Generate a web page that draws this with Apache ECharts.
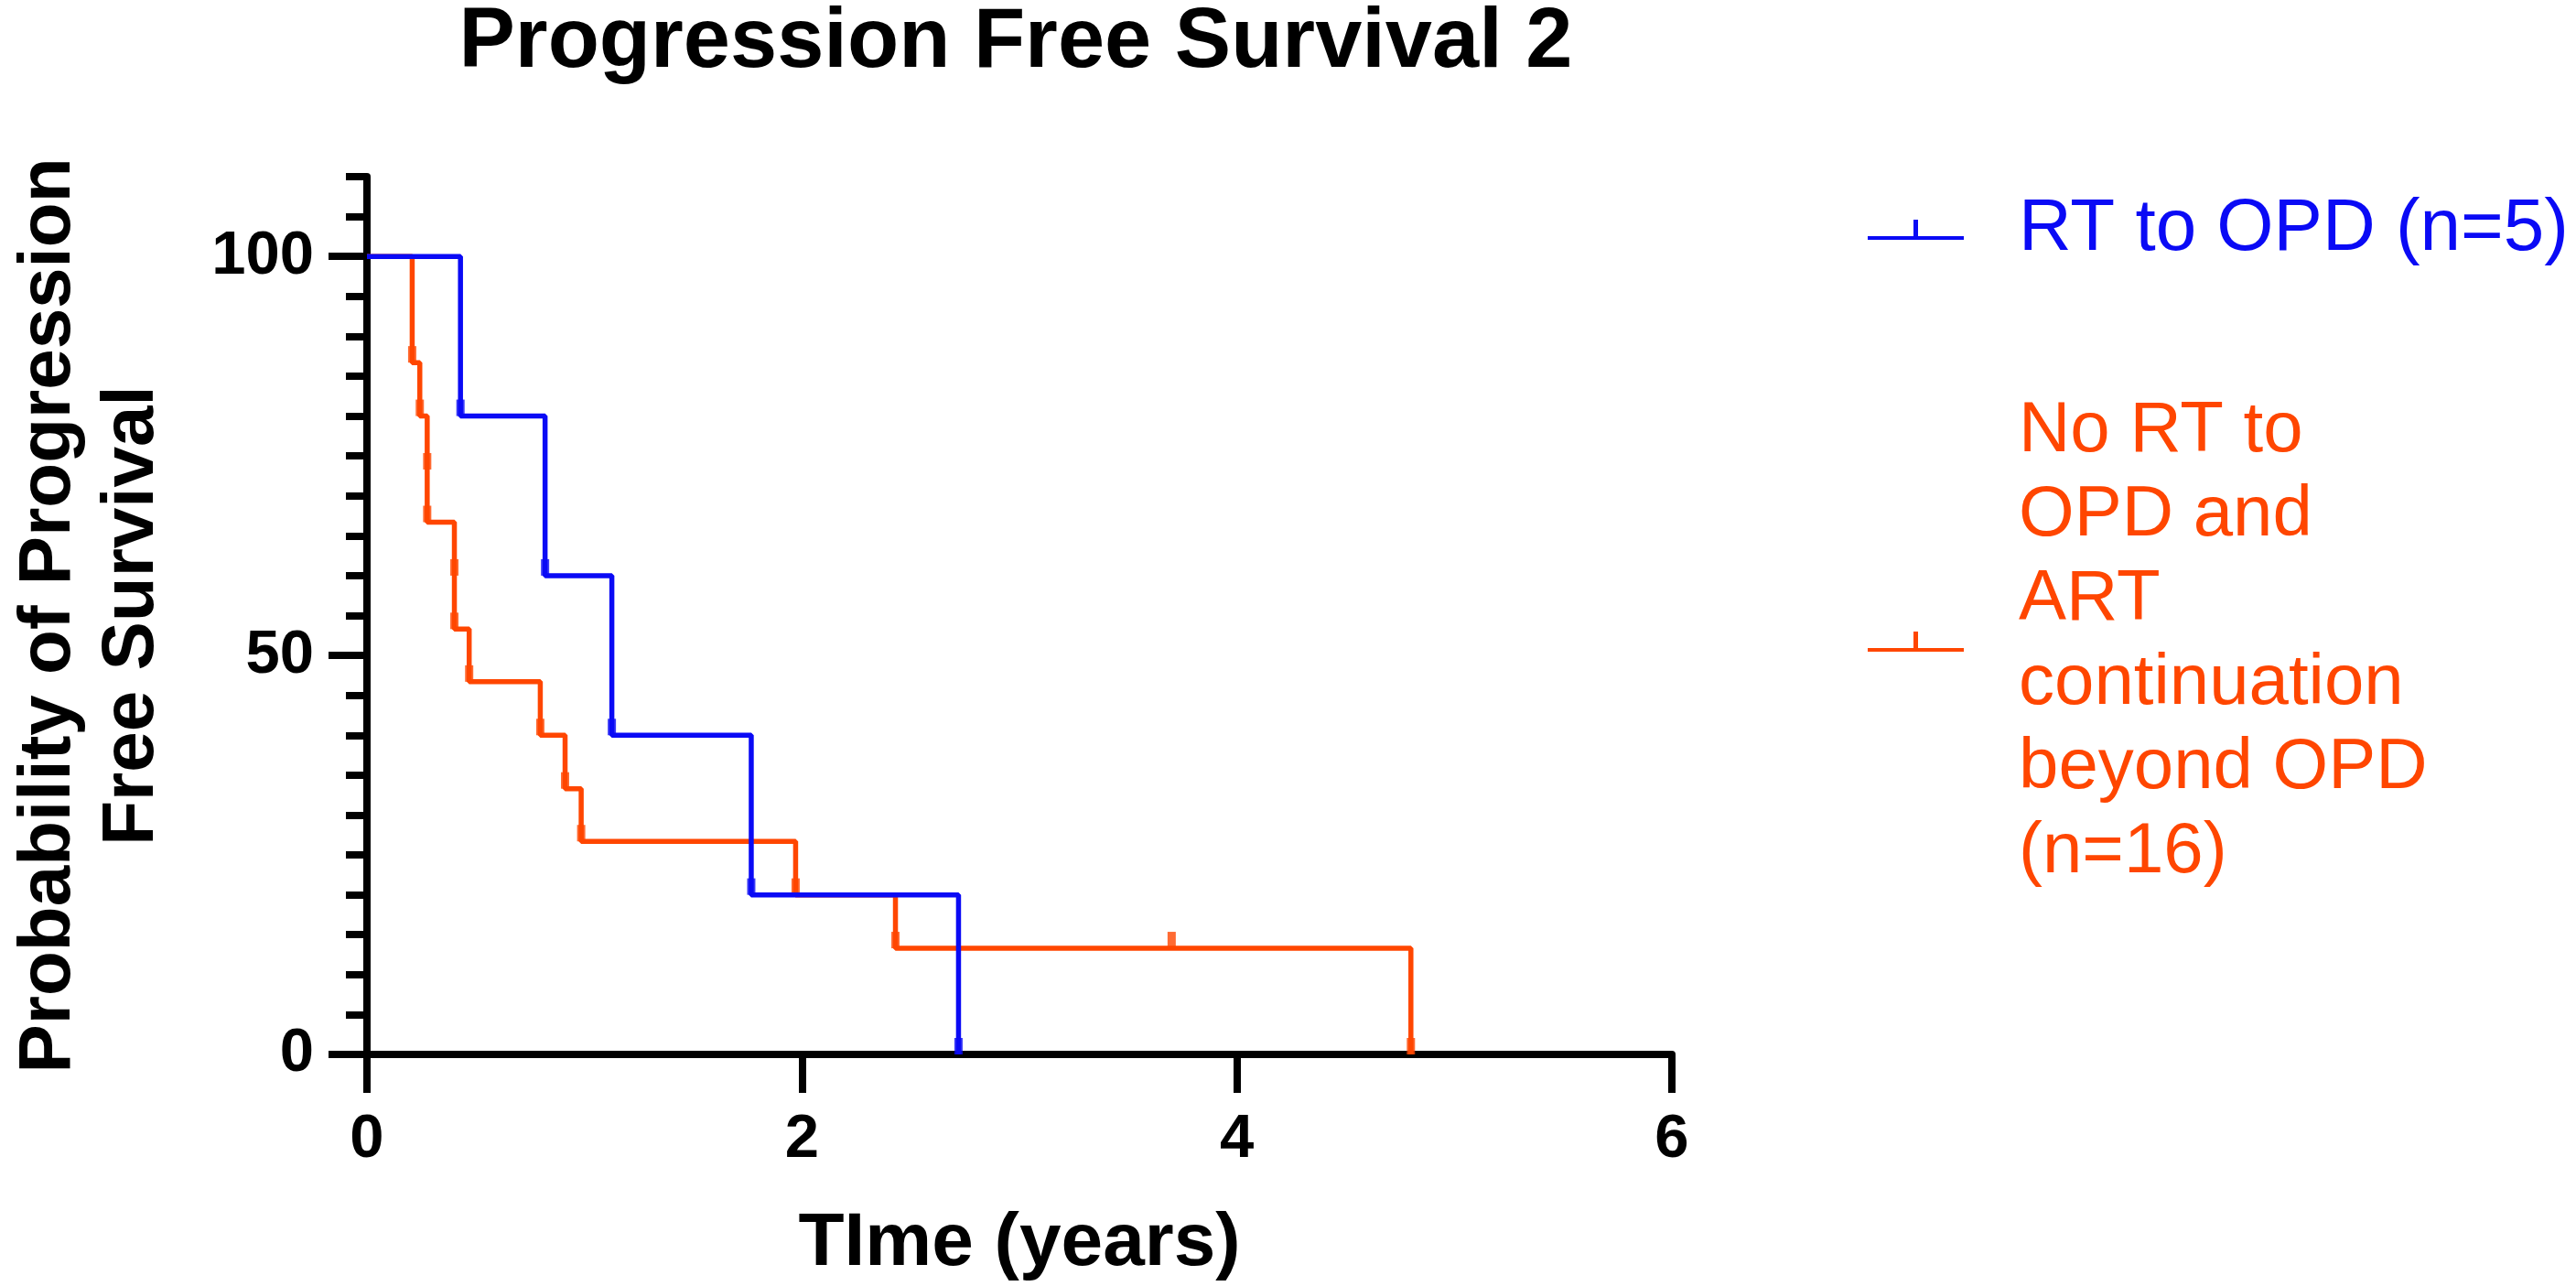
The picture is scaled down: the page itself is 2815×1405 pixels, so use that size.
<!DOCTYPE html>
<html>
<head>
<meta charset="utf-8">
<script src="https://cdn.jsdelivr.net/npm/echarts@6/dist/echarts.min.js"></script>
<style>
  html, body { margin: 0; padding: 0; background: #fff; }
  #chart { width: 2815px; height: 1405px; }
</style>
</head>
<body>
<div id="chart"></div>
<script>
// RT to OPD (n=5): step times (years) and survival (%)
const rtTimes = [0, 0.43, 0.819, 1.126, 1.767, 2.72];
const rtSurvival = [100, 80, 60, 40, 20, 0];
// tick symbols drawn on the curve
const rtMarkTimes = [0.43, 0.819, 1.126, 1.767, 2.72];
const rtMarkValues = [80, 60, 40, 20, 0];

// No RT to OPD and ART continuation beyond OPD (n=16)
const noRtTimes = [0, 0.208, 0.243, 0.277, 0.402, 0.47, 0.797, 0.911, 0.985, 1.971, 2.43, 4.8];
const noRtSurvival = [100, 86.7, 80, 66.7, 53.3, 46.7, 40, 33.3, 26.7, 20, 13.3, 0];
const noRtMarkTimes = [0.208, 0.243, 0.277, 0.277, 0.402, 0.402, 0.47, 0.797, 0.911, 0.985, 1.971, 2.43, 3.7, 4.8];
const noRtMarkValues = [86.7, 80, 73.3, 66.7, 60, 53.3, 46.7, 40, 33.3, 26.7, 20, 13.3, 13.3, 0];

const yLabelValues = [0, 50, 100];

const rtName = "RT to OPD (n=5)";
const noRtName = "No RT to\nOPD and\nART\ncontinuation\nbeyond OPD\n(n=16)";
const blue = "#0a0af5";
const orange = "#ff4600";
const font = "Liberation Sans, Arial, Helvetica, sans-serif";

function zip(xs, ys) {
  return xs.map((x, i) => [x, ys[i]]);
}

//刻度符号: 小竖线
const tickSymbol = "path://M0,0h10v10h-10z";
const legendIcon = "path://M0,18h105v4h-105z M50,0h5v18h-5z";

let myChart = echarts.init(document.getElementById("chart"));
let option = {
  animation: false,
  backgroundColor: "#fff",
  grid: {
    left: 385,
    right: 988,
    top: 193,
    bottom: 252,
  },
  graphic: [
    {
      type: "text",
      x: 1110,
      y: 2,
      style: {
        text: "Progression Free Survival 2",
        align: "center",
        verticalAlign: "top",
        fontFamily: font,
        fontWeight: "bold",
        fontSize: 92,
        fill: "#000",
      },
    },
  ],
  legend: {
    orient: "vertical",
    left: 2041,
    top: 196,
    padding: 0,
    itemGap: 110,
    itemWidth: 105,
    itemHeight: 22,
    symbolKeepAspect: false,
    selectedMode: false,
    data: [
      {
        name: rtName,
        icon: legendIcon,
        textStyle: { color: blue, fontSize: 80 },
      },
      {
        name: noRtName,
        icon: legendIcon,
        textStyle: { color: orange, fontSize: 78 },
      },
    ],
    textStyle: {
      fontFamily: font,
      fontSize: 78,
      lineHeight: 92,
      padding: [18, 0, 0, 55],
    },
  },
  xAxis: {
    type: "value",
    min: 0,
    max: 6,
    interval: 2,
    name: "TIme (years)",
    nameLocation: "middle",
    nameGap: 166,
    nameTextStyle: {
      fontFamily: font,
      fontWeight: "bold",
      fontSize: 82,
      color: "#000",
    },
    axisLine: { lineStyle: { color: "#000", width: 8 } },
    axisTick: { length: 42, lineStyle: { color: "#000", width: 8 } },
    axisLabel: {
      margin: 60,
      fontFamily: font,
      fontWeight: "bold",
      fontSize: 67,
      color: "#000",
    },
    splitLine: { show: false },
  },
  yAxis: [
    {
      type: "value",
      min: 0,
      max: 110,
      interval: 5,
      name: "Probability of Progression\nFree Survival",
      nameLocation: "middle",
      nameGap: 211,
      nameTextStyle: {
        fontFamily: font,
        fontWeight: "bold",
        fontSize: 80,
        lineHeight: 91,
        align: "center",
        color: "#000",
      },
      axisLine: { show: true, lineStyle: { color: "#000", width: 8 } },
      //短刻度
      axisTick: { show: true, length: 23, lineStyle: { color: "#000", width: 8 } },
      axisLabel: {
        customValues: yLabelValues,
        margin: 58,
        fontFamily: font,
        fontWeight: "bold",
        fontSize: 67,
        color: "#000",
      },
      splitLine: { show: false },
    },
    {
      //长刻度 0, 50, 100
      type: "value",
      min: 0,
      max: 110,
      interval: 5,
      position: "left",
      axisLine: { show: false },
      axisTick: {
        show: true,
        customValues: yLabelValues,
        length: 42,
        lineStyle: { color: "#000", width: 8 },
      },
      axisLabel: { show: false },
      splitLine: { show: false },
    },
  ],
  series: [
    {
      name: noRtName,
      type: "line",
      step: "end",
      showSymbol: false,
      data: zip(noRtTimes, noRtSurvival),
      lineStyle: { color: orange, width: 5.5 },
      itemStyle: { color: orange },
      z: 2,
    },
    {
      name: noRtName,
      type: "scatter",
      data: zip(noRtMarkTimes, noRtMarkValues),
      symbol: tickSymbol,
      symbolSize: [9, 18],
      symbolOffset: [0, "-50%"],
      itemStyle: { color: orange },
      z: 2,
    },
    {
      name: rtName,
      type: "line",
      step: "end",
      showSymbol: false,
      data: zip(rtTimes, rtSurvival),
      lineStyle: { color: blue, width: 5.5 },
      itemStyle: { color: blue },
      z: 3,
    },
    {
      name: rtName,
      type: "scatter",
      data: zip(rtMarkTimes, rtMarkValues),
      symbol: tickSymbol,
      symbolSize: [9, 18],
      symbolOffset: [0, "-50%"],
      itemStyle: { color: blue },
      z: 3,
    },
  ],
};
myChart.setOption(option);
</script>
</body>
</html>
